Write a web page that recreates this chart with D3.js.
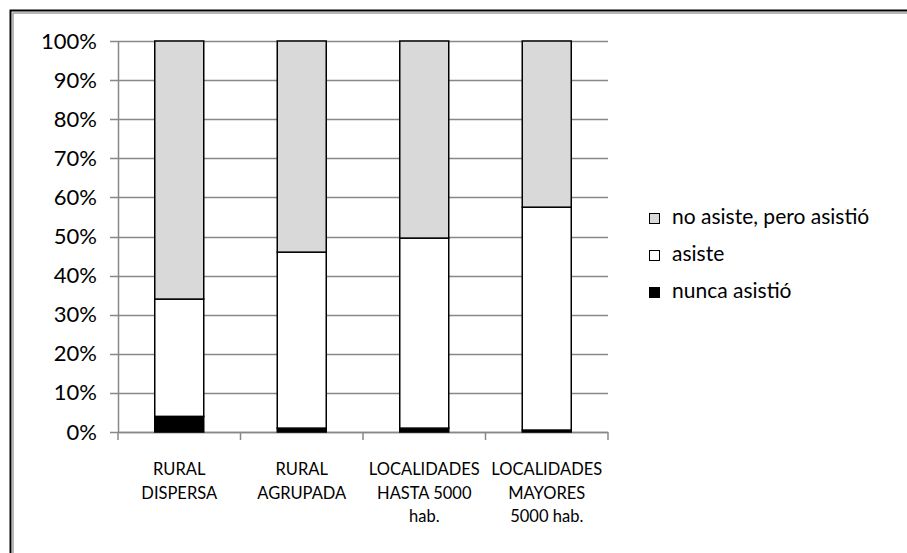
<!DOCTYPE html>
<html>
<head>
<meta charset="utf-8">
<script src="https://cdnjs.cloudflare.com/ajax/libs/d3/7.8.5/d3.min.js"></script>
<style>
body { margin: 0; background: #fff; }
text { font-family: Lato, "Open Sans", sans-serif; fill: #000; }
</style>
</head>
<body>
<div id="chart"></div>
<script>
// data
var categories = [
    ["RURAL", "DISPERSA"],
    ["RURAL", "AGRUPADA"],
    ["LOCALIDADES", "HASTA 5000", "hab."],
    ["LOCALIDADES", "MAYORES", "5000 hab."]
];
var nuncaAsistio = [4, 1, 1, 0.5];
var asiste = [30, 45, 48.6, 57];
var noAsistePeroAsistio = [66, 54, 50.4, 42.5];

var seriesNames = ["nunca asistió", "asiste", "no asiste, pero asistió"];
var seriesColors = ["#000000", "#ffffff", "#d9d9d9"];
var yTicks = [0, 10, 20, 30, 40, 50, 60, 70, 80, 90, 100];

var width = 907, height = 553;
var margin = {top: 41, left: 118, right: 299, bottom: 121};
var w = width - margin.left - margin.right;
var h = height - margin.top - margin.bottom;

var svg = d3.select("#chart").append("svg")
    .attr("width", width)
    .attr("height", height);

// outer frame (only top and left visible)
svg.append("path")
    .attr("d", "M10.5," + height + "V10.5H" + width)
    .attr("fill", "none").attr("stroke", "#000").attr("stroke-width", 2);
svg.append("path")
    .attr("d", "M13," + height + "V13H" + width)
    .attr("fill", "none").attr("stroke", "#a0a0a0").attr("stroke-width", 1.5);

var g = svg.append("g")
    .attr("transform", "translate(" + margin.left + "," + margin.top + ")");

var x = d3.scaleBand()
    .domain(d3.range(categories.length))
    .range([0, w])
    .paddingInner(0.6)
    .paddingOuter(0.3);

var y = d3.scaleLinear().domain([0, 100]).range([h, 0]);

// gridlines
g.selectAll(".grid")
    .data(yTicks)
    .enter().append("line")
    .attr("x1", -8).attr("x2", w)
    .attr("y1", function(d) { return Math.round(y(d)) + 0.5; })
    .attr("y2", function(d) { return Math.round(y(d)) + 0.5; })
    .attr("stroke", "#888").attr("stroke-width", 1.5);

// y axis
var yAxis = g.append("g")
    .call(d3.axisLeft(y).tickValues(yTicks).tickSize(0).tickPadding(21)
        .tickFormat(function(d) { return d + "%"; }));
yAxis.select(".domain").attr("stroke", "#888").attr("stroke-width", 1.5);
yAxis.selectAll("text").style("font-size", "22px");

// x axis
var step = x.step();
var xAxis = g.append("g").attr("transform", "translate(0," + h + ")");
xAxis.append("line").attr("x1", 0).attr("x2", w).attr("y1", 0.5).attr("y2", 0.5)
    .attr("stroke", "#888").attr("stroke-width", 1.5);
xAxis.selectAll(".tk")
    .data(d3.range(categories.length + 1))
    .enter().append("line")
    .attr("x1", function(d) { return d * step; })
    .attr("x2", function(d) { return d * step; })
    .attr("y1", 0).attr("y2", 8)
    .attr("stroke", "#888").attr("stroke-width", 1.5);

var labels = xAxis.selectAll(".lbl")
    .data(categories)
    .enter().append("text")
    .attr("text-anchor", "middle")
    .style("font-size", "16.5px")
    .attr("transform", function(d, i) { return "translate(" + (x(i) + x.bandwidth() / 2) + ",43)"; });
labels.selectAll("tspan")
    .data(function(d) { return d; })
    .enter().append("tspan")
    .attr("x", 0)
    .attr("y", function(d, i) { return i * 23.5; })
    .text(function(d) { return d; });

// stacked bars
var rows = categories.map(function(c, i) {
    return {i: i, "nunca asistió": nuncaAsistio[i], "asiste": asiste[i], "no asiste, pero asistió": noAsistePeroAsistio[i]};
});
var stack = d3.stack().keys(seriesNames)(rows);

g.selectAll(".series")
    .data(stack)
    .enter().append("g")
    .attr("fill", function(d, i) { return seriesColors[i]; })
    .selectAll("rect")
    .data(function(d) { return d; })
    .enter().append("rect")
    .attr("x", function(d) { return x(d.data.i); })
    .attr("width", x.bandwidth())
    .attr("y", function(d) { return y(d[1]); })
    .attr("height", function(d) { return y(d[0]) - y(d[1]); })
    .attr("stroke", "#000").attr("stroke-width", 1.5);

// legend
var legend = svg.append("g").attr("transform", "translate(649,224)");
var legendOrder = [2, 1, 0];
var li = legend.selectAll(".li")
    .data(legendOrder)
    .enter().append("g")
    .attr("transform", function(d, i) { return "translate(0," + (i * 37) + ")"; });
li.append("rect")
    .attr("x", 0.5).attr("y", -10.5).attr("width", 10).attr("height", 10)
    .attr("fill", function(d) { return seriesColors[d]; })
    .attr("stroke", "#000").attr("stroke-width", 1);
li.append("text")
    .attr("x", 23).attr("y", 0)
    .style("font-size", "21px")
    .text(function(d) { return seriesNames[d]; });
</script>
</body>
</html>
